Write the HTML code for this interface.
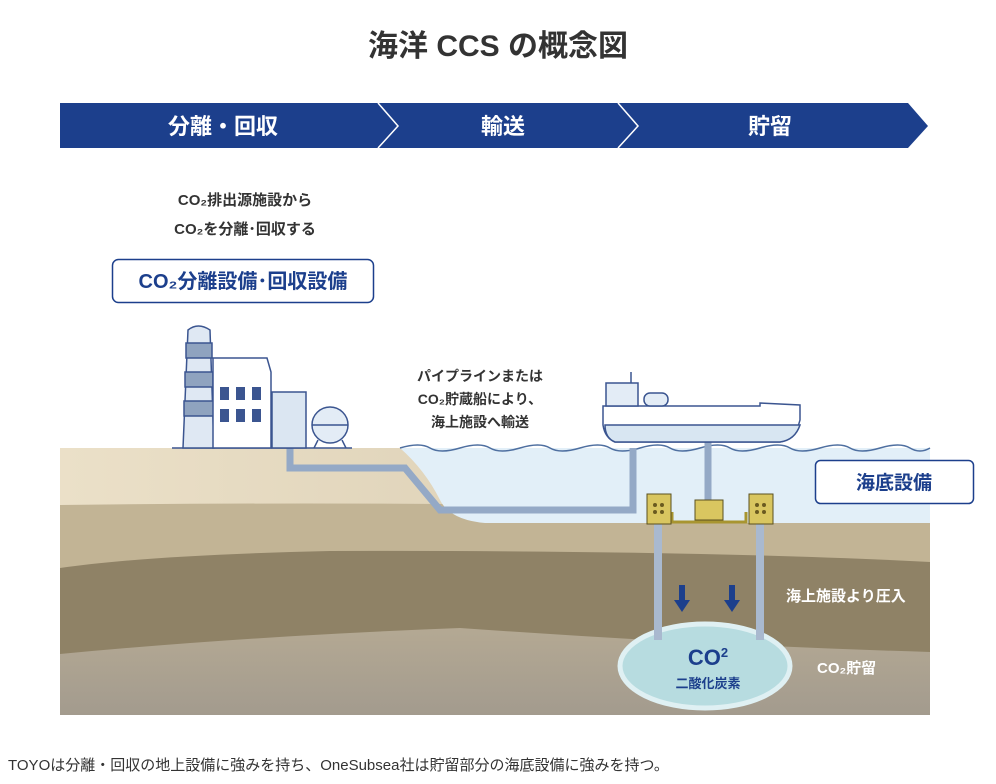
<!DOCTYPE html>
<html><head><meta charset="utf-8"><style>
body{margin:0;background:#fff;width:996px;height:784px;overflow:hidden;font-family:"Liberation Sans","Noto Sans CJK JP",sans-serif}
svg{position:absolute;left:0;top:0}
</style></head><body>
<svg width="996" height="784" viewBox="0 0 996 784" font-family="Liberation Sans, Noto Sans CJK JP, sans-serif">
<defs>
<linearGradient id="bot" x1="0" y1="0" x2="0" y2="1"><stop offset="0" stop-color="#c2b497"/><stop offset="0.5" stop-color="#bdb096"/><stop offset="1" stop-color="#a39b8e"/></linearGradient>
<linearGradient id="top" x1="0" y1="0" x2="1" y2="0"><stop offset="0" stop-color="#ebe0c8"/><stop offset="1" stop-color="#d4c7ab"/></linearGradient>
</defs>
<text x="498" y="56" text-anchor="middle" font-size="30" font-weight="bold" fill="#333">海洋 CCS の概念図</text>
<polygon points="60,103 908,103 928,126 908,148 60,148" fill="#1c3f8c"/>
<polyline points="378,103 398,126 378,148" fill="none" stroke="#fff" stroke-width="1.5"/>
<polyline points="618,103 638,126 618,148" fill="none" stroke="#fff" stroke-width="1.5"/>
<g fill="#fff" font-size="22" font-weight="bold" text-anchor="middle">
<text x="223" y="134">分離・回収</text><text x="503" y="134">輸送</text><text x="770" y="134">貯留</text></g>
<g fill="#333" font-size="15" font-weight="bold" text-anchor="middle">
<text x="245" y="205">CO₂排出源施設から</text><text x="245" y="234">CO₂を分離･回収する</text></g>
<rect x="112.5" y="259.5" width="261" height="43" rx="6" fill="#fff" stroke="#1c3f8c" stroke-width="1.5"/>
<text x="243" y="288" text-anchor="middle" font-size="20" font-weight="bold" fill="#1c3f8c">CO₂分離設備･回収設備</text>
<!-- ground -->
<rect x="60" y="448" width="870" height="267" fill="url(#bot)"/>
<path d="M60 505 Q300 502 560 505 L930 510 L930 562 Q700 550 330 551 Q150 555 60 568 Z" fill="#c2b495"/>
<path d="M60 568 Q150 555 330 551 Q700 550 930 562 L930 652 Q700 645 460 628 Q250 636 60 654 Z" fill="#8f8266"/>
<path d="M60 448 L930 448 L930 510 L560 505 Q300 502 60 505 Z" fill="url(#top)"/>
<path d="M400 448 L930 448 L930 523 L485 523 Q450 520 440 500 Q425 470 400 448 Z" fill="#e2eff8"/>
<path d="M400 448 Q420 442 430 448 T460 448 T490 448 T520 448 T550 448 T580 448 T610 448 T640 448 T670 448 T700 448 T730 448 T760 448 T790 448 T820 448 T850 448 T880 448 T910 448 T930 448" fill="none" stroke="#4e6fa0" stroke-width="1.5"/>
<polyline points="290,448 290,468 405,468 440,510 633,510 633,448" fill="none" stroke="#94a9c6" stroke-width="7"/>
<line x1="708" y1="440" x2="708" y2="500" stroke="#94a9c6" stroke-width="7"/>
<line x1="658" y1="520" x2="658" y2="640" stroke="#a9b9cf" stroke-width="8"/>
<line x1="760" y1="520" x2="760" y2="640" stroke="#a9b9cf" stroke-width="8"/>
<ellipse cx="705" cy="666" rx="85" ry="42" fill="#b7dce0" stroke="#dff0f3" stroke-width="5"/>
<line x1="658" y1="600" x2="658" y2="640" stroke="#a9b9cf" stroke-width="8"/>
<line x1="760" y1="600" x2="760" y2="640" stroke="#a9b9cf" stroke-width="8"/>
<text x="708" y="665" text-anchor="middle" font-size="22" font-weight="bold" fill="#1c3f8c">CO<tspan font-size="13" dy="-8">2</tspan></text>
<text x="708" y="688" text-anchor="middle" font-size="13" font-weight="bold" fill="#1c3f8c">二酸化炭素</text>
<g fill="#1c3f8c"><rect x="679" y="585" width="6" height="18"/><polygon points="674,600 690,600 682,612"/>
<rect x="729" y="585" width="6" height="18"/><polygon points="724,600 740,600 732,612"/></g>
<g fill="#fff" font-size="15" font-weight="bold"><text x="786" y="601">海上施設より圧入</text><text x="817" y="673">CO₂貯留</text></g>
<g fill="#d9c660" stroke="#5a5020" stroke-width="1">
<path d="M672 512 L672 522 L746 522 L746 512" fill="none" stroke="#a89530" stroke-width="3"/>
<rect x="647" y="494" width="24" height="30"/><rect x="749" y="494" width="24" height="30"/>
<rect x="695" y="500" width="28" height="20"/></g>
<g fill="#6a5a20"><circle cx="655" cy="505" r="2"/><circle cx="662" cy="505" r="2"/><circle cx="655" cy="512" r="2"/><circle cx="662" cy="512" r="2"/><circle cx="757" cy="505" r="2"/><circle cx="764" cy="505" r="2"/><circle cx="757" cy="512" r="2"/><circle cx="764" cy="512" r="2"/></g>
<rect x="815.5" y="460.5" width="158" height="43" rx="5" fill="#fff" stroke="#1c3f8c" stroke-width="1.5"/>
<text x="894" y="489" text-anchor="middle" font-size="19" font-weight="bold" fill="#1c3f8c">海底設備</text>
<g stroke="#3b5590" stroke-width="1.5">
<path d="M603 406 L760 406 L760 403 L800 405 L800 420 Q795 440 780 442 L615 442 Q605 438 603 425 Z" fill="#fff"/>
<path d="M605 425 L800 425 Q795 440 780 442 L615 442 Q605 438 605 425 Z" fill="#d8e6f2"/>
<rect x="606" y="383" width="32" height="23" fill="#e3ecf6"/>
<rect x="644" y="393" width="24" height="13" rx="6" fill="#e3ecf6"/>
<line x1="631" y1="383" x2="631" y2="372"/></g>
<g fill="#333" font-size="14" font-weight="bold" text-anchor="middle">
<text x="480" y="381">パイプラインまたは</text><text x="480" y="404">CO₂貯蔵船により、</text><text x="480" y="427">海上施設へ輸送</text></g>
<line x1="172" y1="448" x2="352" y2="448" stroke="#3b5590" stroke-width="1.5"/>
<g stroke="#3b5590" stroke-width="1.5">
<path d="M183 448 L188 330 Q198 322 210 330 L214 448 Z" fill="#dfe8f3"/>
<rect x="186" y="343" width="26" height="15" fill="#8fa3bf"/><rect x="185" y="372" width="28" height="15" fill="#8fa3bf"/><rect x="184" y="401" width="30" height="15" fill="#8fa3bf"/>
<path d="M213 448 L213 358 L267 358 L271 372 L271 448 Z" fill="#fff"/>
<rect x="272" y="392" width="34" height="56" fill="#dbe6f2"/>
<circle cx="330" cy="425" r="18" fill="#e3ecf6"/>
<line x1="312" y1="425" x2="348" y2="425"/>
<line x1="318" y1="440" x2="314" y2="448"/><line x1="342" y1="440" x2="346" y2="448"/></g>
<g fill="#3b5590"><rect x="220" y="387" width="9" height="13"/><rect x="236" y="387" width="9" height="13"/><rect x="252" y="387" width="9" height="13"/>
<rect x="220" y="409" width="9" height="13"/><rect x="236" y="409" width="9" height="13"/><rect x="252" y="409" width="9" height="13"/></g>
<text x="8" y="770" font-size="15" fill="#333">TOYOは分離・回収の地上設備に強みを持ち、OneSubsea社は貯留部分の海底設備に強みを持つ。</text>
</svg>
</body></html>
